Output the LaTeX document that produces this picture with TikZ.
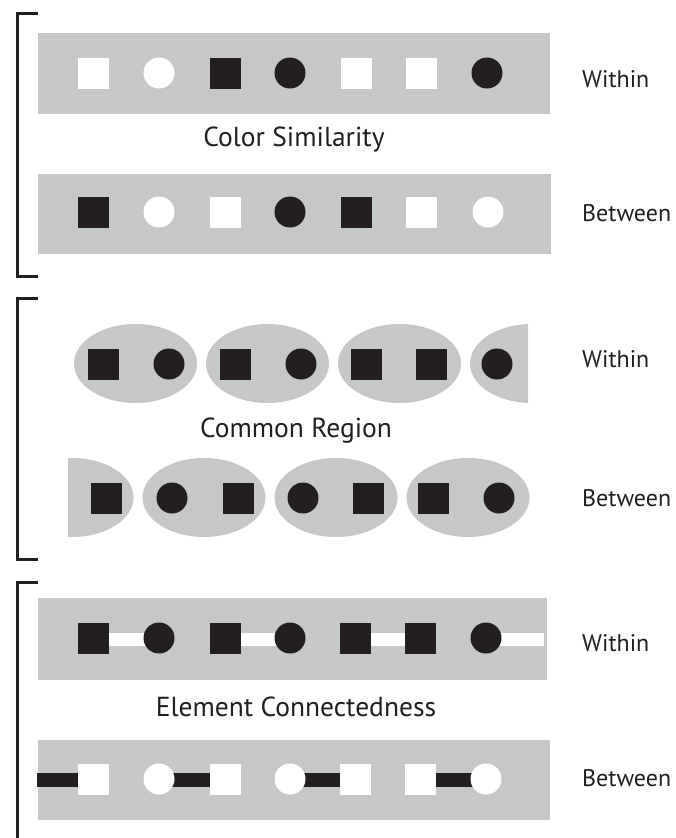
\documentclass[tikz,border=0pt]{standalone}
\usepackage{fontspec}
\setmainfont{PT Sans}
\usetikzlibrary{shapes.geometric}
\definecolor{gbox}{HTML}{C6C7C8}
\definecolor{ink}{HTML}{231F20}
\pgfdeclarelayer{bg}
\pgfdeclarelayer{conn}
\pgfsetlayers{bg,conn,main}
\begin{document}
\begin{tikzpicture}[x=1pt,y=-1pt,
  sq/.style={rectangle,inner sep=0pt,minimum size=31pt},
  ci/.style={circle,inner sep=0pt,minimum size=31pt},
  blk/.style={fill=ink},
  wht/.style={fill=white},
  band/.style={fill=gbox},
  reg/.style={ellipse,fill=gbox,inner sep=0pt,minimum width=123pt,minimum height=79pt},
  brk/.style={draw=ink,line width=3pt},
  lab/.style={text=ink,font=\fontsize{27.5}{32}\selectfont,inner sep=0pt},
  sidelab/.style={text=ink,font=\fontsize{24}{28}\selectfont,inner sep=0pt,anchor=west},
  wbar/.style={draw=white,line width=13pt},
  bbar/.style={draw=ink,line width=14pt}]
\useasboundingbox (0,0) rectangle (675,838);

% brackets
\draw[brk] (38,13) -- (17,13) -- (17,276) -- (38,276);
\draw[brk] (38,298) -- (17,298) -- (17,559) -- (38,559);
\draw[brk] (38,582) -- (17,582) -- (17,840);

% ===== Color Similarity =====
\begin{pgfonlayer}{bg}
\fill[band] (38,33) rectangle (550,114);
\fill[band] (38,174) rectangle (551,254);
\end{pgfonlayer}
\node[sq,wht] (a1) at (93,73) {};
\node[ci,wht] (a2) at (159,73) {};
\node[sq,blk] (a3) at (225,73) {};
\node[ci,blk] (a4) at (290,73) {};
\node[sq,wht] (a5) at (356,73) {};
\node[sq,wht] (a6) at (421,73) {};
\node[ci,blk] (a7) at (487,73) {};

\node[sq,blk] (b1) at (93,212) {};
\node[ci,wht] (b2) at (159,212) {};
\node[sq,wht] (b3) at (225,212) {};
\node[ci,blk] (b4) at (290,212) {};
\node[sq,blk] (b5) at (356,212) {};
\node[sq,wht] (b6) at (421,212) {};
\node[ci,wht] (b7) at (488,212) {};

\node[lab] (t1) at (294,140) {Color Similarity};
\node[sidelab] (w1) at (582,79) {Within};
\node[sidelab] (v1) at (582,213) {Between};

% ===== Common Region =====
\begin{pgfonlayer}{bg}
\node[reg] (e1) at (135.5,363.5) {};
\node[reg] (e2) at (267.5,363.5) {};
\node[reg] (e3) at (399.5,363.5) {};
\begin{scope}
\clip (400,300) rectangle (528,420);
\node[reg] (e4) at (531.5,363.5) {};
\end{scope}
\begin{scope}
\clip (68,440) rectangle (200,560);
\node[reg] (f1) at (72,497.5) {};
\end{scope}
\node[reg] (f2) at (204,497.5) {};
\node[reg] (f3) at (336,497.5) {};
\node[reg] (f4) at (468,497.5) {};
\end{pgfonlayer}
\node[sq,blk] (c1) at (103,364) {};
\node[ci,blk] (c2) at (169,364) {};
\node[sq,blk] (c3) at (235,364) {};
\node[ci,blk] (c4) at (301,364) {};
\node[sq,blk] (c5) at (366,364) {};
\node[sq,blk] (c6) at (431,364) {};
\node[ci,blk] (c7) at (497,364) {};

\node[sq,blk] (d1) at (106,498) {};
\node[ci,blk] (d2) at (172,498) {};
\node[sq,blk] (d3) at (238,498) {};
\node[ci,blk] (d4) at (303,498) {};
\node[sq,blk] (d5) at (368,498) {};
\node[sq,blk] (d6) at (433,498) {};
\node[ci,blk] (d7) at (499,498) {};

\node[lab] (t2) at (296,431) {Common Region};
\node[sidelab] (w2) at (582,359) {Within};
\node[sidelab] (v2) at (582,498) {Between};

% ===== Element Connectedness =====
\begin{pgfonlayer}{bg}
\fill[band] (38,598) rectangle (547,680);
\fill[band] (38,740) rectangle (550,820);
\end{pgfonlayer}
\node[sq,blk] (g1) at (93,638) {};
\node[ci,blk] (g2) at (159,638) {};
\node[sq,blk] (g3) at (225,638) {};
\node[ci,blk] (g4) at (290,638) {};
\node[sq,blk] (g5) at (355,638) {};
\node[sq,blk] (g6) at (420,638) {};
\node[ci,blk] (g7) at (486,638) {};
\coordinate (gend) at (544,639.5);

\node[sq,wht] (h1) at (93,779) {};
\node[ci,wht] (h2) at (159,779) {};
\node[sq,wht] (h3) at (225,779) {};
\node[ci,wht] (h4) at (290,779) {};
\node[sq,wht] (h5) at (355,779) {};
\node[sq,wht] (h6) at (420,779) {};
\node[ci,wht] (h7) at (486,779) {};
\coordinate (hstart) at (37,780);

\begin{pgfonlayer}{conn}
\draw[wbar] ([yshift=-1.5pt]g1.center) -- ([yshift=-1.5pt]g2.center);
\draw[wbar] ([yshift=-1.5pt]g3.center) -- ([yshift=-1.5pt]g4.center);
\draw[wbar] ([yshift=-1.5pt]g5.center) -- ([yshift=-1.5pt]g6.center);
\draw[wbar] ([yshift=-1.5pt]g7.center) -- (gend);
\draw[bbar] (hstart) -- ([yshift=-1pt]h1.center);
\draw[bbar] ([yshift=-1pt]h2.center) -- ([yshift=-1pt]h3.center);
\draw[bbar] ([yshift=-1pt]h4.center) -- ([yshift=-1pt]h5.center);
\draw[bbar] ([yshift=-1pt]h6.center) -- ([yshift=-1pt]h7.center);
\end{pgfonlayer}

\node[lab] (t3) at (296,707) {Element Connectedness};
\node[sidelab] (w3) at (582,643) {Within};
\node[sidelab] (v3) at (582,778) {Between};
\end{tikzpicture}
\end{document}
